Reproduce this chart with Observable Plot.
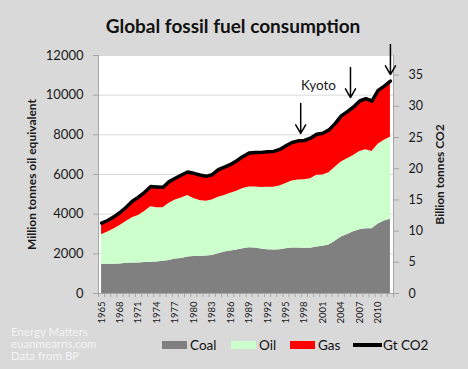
<!DOCTYPE html>
<html>
<head>
<meta charset="utf-8">
<script src="https://cdn.jsdelivr.net/npm/d3@7"></script>
<script src="https://cdn.jsdelivr.net/npm/@observablehq/plot@0.6"></script>
<style>
  html, body { margin: 0; padding: 0; }
  body { width: 468px; height: 369px; background: #d9d9d9; font-family: Lato, "Open Sans", sans-serif; overflow: hidden; }
  #title { height: 44px; box-sizing: border-box; padding-top: 16px; line-height: 20px; text-align: center; font-size: 19px; font-weight: bold; color: #111; padding-right: 2px; }
  #chart svg { display: block; }
  #bottom { position: relative; height: 45px; }
  .credit { position: absolute; left: 11px; font-size: 11.5px; color: #f4f4f4; line-height: 12px; }
  .sw { position: absolute; }
  .lt { position: absolute; font-size: 13.5px; color: #111; line-height: 16px; top: 13px; }
</style>
</head>
<body>
<div id="title">Global fossil fuel consumption</div>
<div id="chart"></div>
<div id="bottom">
  <div class="credit" style="top:2px">Energy Matters</div>
  <div class="credit" style="top:14px">euanmearns.com</div>
  <div class="credit" style="top:26px">Data from BP</div>
  <div class="sw" style="left:162px; top:17px; width:25px; height:8px; background:#808080"></div>
  <div class="lt" style="left:190px">Coal</div>
  <div class="sw" style="left:231px; top:17px; width:25px; height:8px; background:#ccffcc"></div>
  <div class="lt" style="left:259px">Oil</div>
  <div class="sw" style="left:290px; top:17px; width:25px; height:8px; background:#ff0000"></div>
  <div class="lt" style="left:318px">Gas</div>
  <div class="sw" style="left:353px; top:19px; width:29px; height:4px; background:#000"></div>
  <div class="lt" style="left:383px">Gt CO2</div>
</div>
<script>
// Years 1965–2012
const years = d3.range(1965, 2013);
// Million tonnes oil equivalent
const coal = [1470,1470,1470,1490,1520,1540,1540,1560,1570,1590,1620,1670,1740,1770,1840,1860,1860,1890,1920,2010,2090,2140,2190,2260,2310,2290,2240,2210,2190,2210,2260,2290,2290,2280,2280,2340,2380,2440,2640,2850,2980,3110,3210,3260,3260,3500,3650,3750];
const oil = [1490,1630,1780,1940,2110,2280,2390,2570,2800,2730,2700,2880,2980,3050,3100,2930,2830,2760,2800,2840,2850,2910,2970,3030,3060,3080,3100,3150,3170,3210,3280,3380,3430,3460,3510,3620,3600,3650,3720,3780,3820,3850,3950,3990,3900,4030,4080,4130];
const gas = [590,590,620,650,720,840,920,970,1020,1050,1040,1090,1090,1160,1190,1270,1290,1260,1270,1390,1440,1460,1540,1620,1710,1740,1770,1790,1810,1840,1910,1940,1980,1970,2040,2080,2110,2160,2210,2330,2380,2440,2540,2580,2540,2710,2730,2830];
// Billion tonnes CO2 (right axis)
const co2 = [11.28,11.70,12.29,12.98,13.83,14.79,15.43,16.22,17.13,17.07,17.02,17.93,18.46,18.99,19.47,19.26,18.99,18.78,19.04,19.84,20.27,20.69,21.28,21.97,22.50,22.61,22.61,22.71,22.77,23.09,23.67,24.20,24.47,24.52,24.89,25.53,25.69,26.22,27.23,28.46,29.15,29.89,30.85,31.22,30.85,32.55,33.24,34.04];
const fuels = ["Coal", "Oil", "Gas"];
const fuelColors = ["#808080", "#ccffcc", "#ff0000"];
const leftTicks = [0, 2000, 4000, 6000, 8000, 10000, 12000];
const rightTicks = [0, 5, 10, 15, 20, 25, 30, 35];
const xTickYears = d3.range(1965, 2011, 3);
// Annotation arrows (year, tip value, tail value in Mtoe units)
const arrowX = [1997.4, 2005.5, 2012.0];
const arrowTail = [9580, 11400, 12560];
const arrowTip = [8070, 9880, 11040];
const kyotoLabel = {text: "Kyoto", year: 2000.3, value: 10490};

const K = 314.6; // Mtoe per Gt CO2 (secondary axis scale)

const stacked = [];
years.forEach((yr, i) => {
  stacked.push({year: yr, fuel: "Coal", value: coal[i]});
  stacked.push({year: yr, fuel: "Oil", value: oil[i]});
  stacked.push({year: yr, fuel: "Gas", value: gas[i]});
});
const co2Data = years.map((yr, i) => ({year: yr, v: co2[i] * K}));
const arrows = arrowX.map((x, i) => ({x, y1: arrowTail[i], y2: arrowTip[i]}));

const axisGrey = "#a6a6a6";
const textCol = "#1a1a1a";

const chart = Plot.plot({
  width: 468,
  height: 280,
  marginLeft: 98,
  marginRight: 75,
  marginTop: 11,
  marginBottom: 31,
  style: {fontFamily: "Lato, 'Open Sans', sans-serif", background: "transparent", color: textCol},
  x: {domain: [1964.5, 2012.5]},
  y: {domain: [0, 12000]},
  color: {domain: fuels, range: fuelColors},
  marks: [
    Plot.frame({fill: "white", stroke: null}),
    Plot.gridY(leftTicks.slice(1), {stroke: "#d9d9d9", strokeOpacity: 1}),
    Plot.areaY(stacked, {x: "year", y: "value", fill: "fuel", order: fuels, curve: "linear"}),
    Plot.lineY(co2Data, {x: "year", y: "v", stroke: "black", strokeWidth: 3.5, strokeLinejoin: "round"}),
    Plot.ruleX([1964.5], {stroke: axisGrey}),
    Plot.ruleX([2012.5], {stroke: axisGrey}),
    Plot.ruleY([0], {stroke: axisGrey}),
    Plot.axisY({ticks: leftTicks, tickSize: 5, tickPadding: 10, tickFormat: d => String(d), fontSize: 13, label: null, stroke: axisGrey, fill: textCol}),
    Plot.axisY({anchor: "right", ticks: rightTicks.map(v => v * K), tickFormat: d => String(Math.round(d / K)), tickSize: 5, tickPadding: 10, fontSize: 12.5, label: null, stroke: axisGrey, fill: textCol}),
    Plot.axisX({ticks: d3.range(1964.5, 2013, 1), tickSize: 4, tickFormat: () => "", label: null, stroke: axisGrey}),
    Plot.axisX({ticks: xTickYears, tickSize: 0, tickPadding: 8, tickRotate: -90, tickFormat: d => String(d), fontSize: 9.5, label: null, fill: textCol}),
    Plot.text(["Million tonnes oil equivalent"], {frameAnchor: "left", dx: -66, rotate: -90, textAnchor: "middle", fontSize: 12, fontWeight: "bold", fill: textCol}),
    Plot.text(["Billion tonnes CO2"], {frameAnchor: "right", dx: 47, rotate: -90, textAnchor: "middle", fontSize: 12, fontWeight: "bold", fill: textCol}),
    Plot.arrow(arrows, {x1: "x", x2: "x", y1: "y1", y2: "y2", stroke: "black", strokeWidth: 1.5, headLength: 10, clip: false}),
    Plot.text([kyotoLabel], {x: "year", y: "value", text: "text", fontSize: 13.5, fill: textCol})
  ]
});
document.getElementById("chart").appendChild(chart);
</script>
</body>
</html>
